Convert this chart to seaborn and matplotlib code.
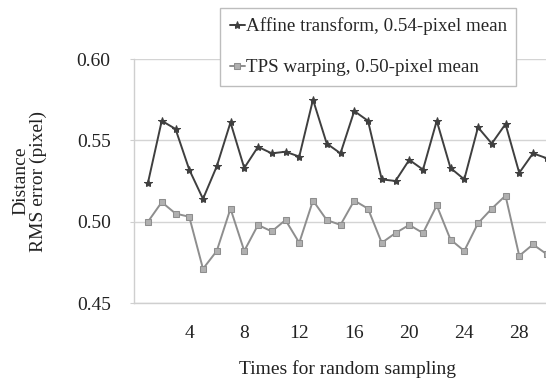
import numpy as np
import pandas as pd
import matplotlib
matplotlib.use("Agg")
import matplotlib.pyplot as plt
import seaborn as sns

times = list(range(1, 31))
affine = [0.524, 0.562, 0.557, 0.532, 0.514, 0.534, 0.561, 0.533, 0.546, 0.542,
          0.543, 0.540, 0.575, 0.548, 0.542, 0.568, 0.562, 0.526, 0.525, 0.538,
          0.532, 0.562, 0.533, 0.526, 0.558, 0.548, 0.560, 0.530, 0.542, 0.539]
tps = [0.500, 0.512, 0.505, 0.503, 0.471, 0.482, 0.508, 0.482, 0.498, 0.494,
       0.501, 0.487, 0.513, 0.501, 0.498, 0.513, 0.508, 0.487, 0.493, 0.498,
       0.493, 0.510, 0.489, 0.482, 0.499, 0.508, 0.516, 0.479, 0.486, 0.480]
label_affine = "Affine transform, 0.54-pixel mean"
label_tps = "TPS warping, 0.50-pixel mean"
yticks = [0.45, 0.50, 0.55, 0.60]
xticks = [4, 8, 12, 16, 20, 24, 28]

sns.set_style("white")
plt.rcParams['font.family'] = ['Liberation Serif', 'DejaVu Serif']

df = pd.DataFrame({"t": times + times,
                   "v": affine + tps,
                   "s": [label_affine] * len(times) + [label_tps] * len(times)})

fig = plt.figure(figsize=(5.46, 3.83), dpi=100)
ax = fig.add_axes([134.25 / 546, 1 - 303 / 383, (560.5 - 134.25) / 546, (303 - 59) / 383])

sns.lineplot(data=df[df.s == label_affine], x="t", y="v", ax=ax, color="#3f3f3f",
             marker="*", markersize=6, markeredgecolor="#3f3f3f", linewidth=1.4,
             label=label_affine)
sns.lineplot(data=df[df.s == label_tps], x="t", y="v", ax=ax, color="#8e8e8e",
             marker="s", markersize=4, markerfacecolor="#b0b0b0", markeredgecolor="#8e8e8e",
             linewidth=1.4, label=label_tps)

ax.set_xlim(0, 31)
ax.set_ylim(0.45, 0.60)
ax.set_yticks(yticks)
ax.set_yticklabels([f"{v:.2f}" for v in yticks])
ax.set_xticks(xticks)
ax.set_xticklabels([str(v) for v in xticks])
ax.grid(axis="y", color="#d4d4d4", linewidth=1)
for side in ["top", "right"]:
    ax.spines[side].set_visible(False)
for side in ["left", "bottom"]:
    ax.spines[side].set_color("#cfcfcf")
    ax.spines[side].set_linewidth(1)
ax.tick_params(axis="y", labelsize=14, colors="#cfcfcf", labelcolor="#222222",
               length=3, left=True, pad=14)
ax.tick_params(axis="x", labelsize=14, labelcolor="#222222", length=0, pad=16)
ax.set_xlabel("Times for random sampling", fontsize=14, color="#222222", labelpad=13)
ax.set_ylabel("Distance\nRMS error (pixel)", fontsize=14, color="#222222",
              linespacing=1.0)
ax.yaxis.set_label_coords(-0.205, 0.5)

ax.get_legend().remove()
h, l = ax.get_legend_handles_labels()
leg = fig.legend(h, l, loc="upper left", bbox_to_anchor=(220 / 546, 1 - 8 / 383),
                 fontsize=13.7, frameon=True, fancybox=False, framealpha=1,
                 edgecolor="#bdbdbd", handlelength=0.8, handletextpad=0.05,
                 borderpad=0.5, labelspacing=1.25, borderaxespad=0)
leg.get_frame().set_linewidth(1)

fig.savefig("out.png", dpi=100)
